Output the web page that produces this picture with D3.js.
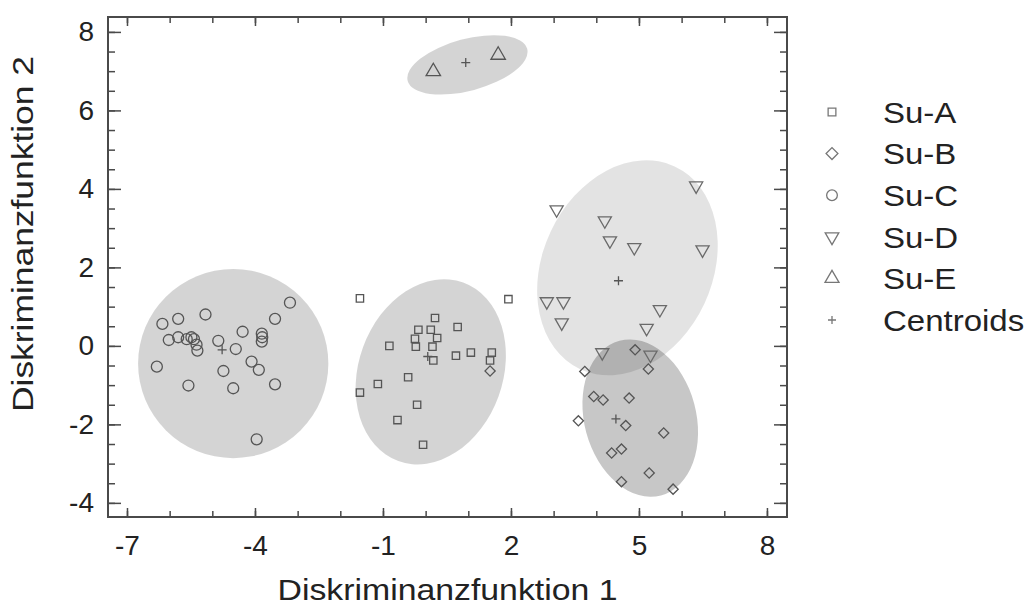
<!DOCTYPE html>
<html>
<head>
<meta charset="utf-8">
<script src="https://cdn.jsdelivr.net/npm/d3@7"></script>
<style>
  html, body { margin: 0; padding: 0; background: #fff; }
  svg { display: block; font-family: "Liberation Sans", Arial, Helvetica, sans-serif; }
</style>
</head>
<body>
<svg id="chart" width="1028" height="608"></svg>
<script>
// ---------------- DATA ----------------
const groups = ["Su-A", "Su-B", "Su-C", "Su-D", "Su-E"];
const legendLabels = ["Su-A", "Su-B", "Su-C", "Su-D", "Su-E", "Centroids"];

const suA = [[-1.54,1.21],[1.94,1.19],[0.22,0.71],[-0.17,0.41],[0.12,0.41],[0.27,0.20],[-0.25,0.18],
  [-0.23,-0.02],[0.16,-0.02],[0.75,0.48],[-0.85,0.00],[0.18,-0.37],[0.71,-0.25],[1.06,-0.17],
  [1.55,-0.17],[1.51,-0.37],[-0.41,-0.80],[-1.12,-0.97],[-1.54,-1.19],[-0.20,-1.50],[-0.66,-1.89],[-0.06,-2.52]];
const suB = [[1.51,-0.64],[4.91,-0.10],[3.73,-0.65],[5.22,-0.59],[3.94,-1.29],[4.16,-1.38],[4.77,-1.33],
  [3.58,-1.91],[4.69,-2.03],[5.58,-2.22],[4.36,-2.73],[4.59,-2.63],[5.24,-3.24],[4.59,-3.46],[5.80,-3.65]];
const suC = [[-3.18,1.10],[-3.53,0.69],[-5.16,0.80],[-5.80,0.69],[-6.17,0.56],[-6.02,0.15],[-5.80,0.22],
  [-5.60,0.17],[-5.49,0.22],[-5.43,0.17],[-5.37,0.03],[-5.35,-0.12],[-4.86,0.13],[-4.45,-0.08],
  [-4.29,0.36],[-3.84,0.31],[-3.83,0.22],[-3.84,0.11],[-4.08,-0.40],[-3.91,-0.61],[-4.74,-0.64],
  [-6.30,-0.53],[-5.56,-1.01],[-4.51,-1.08],[-3.53,-0.98],[-3.96,-2.38]];
const suD = [[6.34,4.08],[3.07,3.47],[4.20,3.19],[4.32,2.68],[4.89,2.51],[6.49,2.45],[2.84,1.13],
  [3.23,1.13],[3.19,0.59],[5.49,0.93],[5.18,0.45],[4.14,-0.17],[5.27,-0.23]];
const suE = [[0.18,6.99],[1.70,7.41]];
// centroids in order A, B, C, D, E
const centroids = [[0.05,-0.27],[4.46,-1.86],[-4.77,-0.10],[4.52,1.66],[0.94,7.22]];
// group ellipses: centre (data), semi-axes (x units, y units), rotation (deg)
const ellCx = [0.12, 5.03, -4.51, 4.73, 0.98];
const ellCy = [-0.66, -1.84, -0.45, 1.99, 7.16];
const ellRx = [1.69, 1.31, 2.23, 1.99, 1.45];
const ellRy = [2.42, 2.04, 2.41, 2.85, 0.66];
const ellAngle = [20, -15, 0, 25, -15];

const xTickValues = [-7, -4, -1, 2, 5, 8];
const yTickValues = [-4, -2, 0, 2, 4, 6, 8];
const xTitle = "Diskriminanzfunktion 1";
const yTitle = "Diskriminanzfunktion 2";

// ---------------- LAYOUT ----------------
const svg = d3.select("#chart");
const L = 108, R = 787, T = 17, B = 517;
const x = d3.scaleLinear().domain([-7.445, 8.47]).range([L, R]);
const y = d3.scaleLinear().domain([-4.36, 8.38]).range([B, T]);

const ellFill = ["rgba(0,0,0,0.17)", "rgba(0,0,0,0.22)", "rgba(0,0,0,0.17)", "rgba(0,0,0,0.11)", "rgba(0,0,0,0.17)"];
const ellOrder = [2, 0, 3, 1, 4];
svg.append("g").selectAll("ellipse").data(ellOrder).join("ellipse")
  .attr("cx", i => x(ellCx[i])).attr("cy", i => y(ellCy[i]))
  .attr("rx", i => x(ellCx[i] + ellRx[i]) - x(ellCx[i]))
  .attr("ry", i => y(ellCy[i]) - y(ellCy[i] + ellRy[i]))
  .attr("transform", i => `rotate(${ellAngle[i]},${x(ellCx[i])},${y(ellCy[i])})`)
  .attr("fill", i => ellFill[i]);

// symbols
const sym = {
  "Su-A": { path: d3.symbol(d3.symbolSquare, 54)(), rot: 0, color: "#555" },
  "Su-B": { path: d3.symbol(d3.symbolSquare, 52)(), rot: 45, color: "#555" },
  "Su-C": { path: d3.symbol(d3.symbolCircle, 95)(), rot: 0, color: "#555" },
  "Su-D": { path: d3.symbol(d3.symbolTriangle, 75)(), rot: 180, color: "#6a6a6a" },
  "Su-E": { path: d3.symbol(d3.symbolTriangle, 90)(), rot: 0, color: "#555" }
};
const series = [suA, suB, suC, suD, suE];
const ptLayer = svg.append("g");
series.forEach((pts, gi) => {
  const s = sym[groups[gi]];
  ptLayer.append("g").selectAll("path").data(pts).join("path")
    .attr("d", s.path)
    .attr("transform", d => `translate(${x(d[0])},${y(d[1])}) rotate(${s.rot})`)
    .attr("fill", "none").attr("stroke", s.color).attr("stroke-width", 1.3);
});
// centroids
const plus = "M-4.5,0H4.5M0,-4.5V4.5";
svg.append("g").selectAll("path").data(centroids).join("path")
  .attr("d", plus)
  .attr("transform", d => `translate(${x(d[0])},${y(d[1])})`)
  .attr("stroke", "#555").attr("stroke-width", 1.3).attr("fill", "none");

// ---------------- AXES ----------------
const axColor = "#4a4a4a";
const fmt = d => String(d);   // plain hyphen-minus like the original
function styleAxis(g) {
  g.select(".domain").remove();
  g.selectAll("line").attr("stroke", axColor).attr("stroke-width", 1.5);
  g.selectAll("text").attr("fill", "#222").attr("font-size", 28)
    .attr("font-family", "'Liberation Sans', Arial, sans-serif");
}
const xMinor = d3.range(-7, 8.01, 1);
const yMinor = d3.range(-4, 8.01, 0.5);
// bottom
svg.append("g").attr("transform", `translate(0,${B})`)
  .call(d3.axisBottom(x).tickValues(xMinor).tickSize(-6).tickFormat("")).call(styleAxis);
svg.append("g").attr("transform", `translate(0,${B})`)
  .call(d3.axisBottom(x).tickValues(xTickValues).tickSize(-9).tickPadding(18).tickFormat(fmt)).call(styleAxis)
  .selectAll("text").attr("dy", "0.71em");
// top
svg.append("g").attr("transform", `translate(0,${T})`)
  .call(d3.axisTop(x).tickValues(xMinor).tickSize(-6).tickFormat("")).call(styleAxis);
svg.append("g").attr("transform", `translate(0,${T})`)
  .call(d3.axisTop(x).tickValues(xTickValues).tickSize(-9).tickFormat("")).call(styleAxis);
// left
svg.append("g").attr("transform", `translate(${L},0)`)
  .call(d3.axisLeft(y).tickValues(yMinor).tickSize(-7).tickFormat("")).call(styleAxis);
svg.append("g").attr("transform", `translate(${L},0)`)
  .call(d3.axisLeft(y).tickValues(yTickValues).tickSize(-13).tickPadding(14).tickFormat(fmt)).call(styleAxis);
// right
svg.append("g").attr("transform", `translate(${R},0)`)
  .call(d3.axisRight(y).tickValues(yMinor).tickSize(-7).tickFormat("")).call(styleAxis);
svg.append("g").attr("transform", `translate(${R},0)`)
  .call(d3.axisRight(y).tickValues(yTickValues).tickSize(-13).tickFormat("")).call(styleAxis);

// frame
svg.append("rect").attr("x", L).attr("y", T).attr("width", R - L).attr("height", B - T)
  .attr("fill", "none").attr("stroke", axColor).attr("stroke-width", 2);

// titles
svg.append("text").attr("x", (L + R) / 2).attr("y", 600)
  .attr("text-anchor", "middle").attr("font-size", 29).attr("fill", "#222")
  .attr("textLength", 340).attr("lengthAdjust", "spacingAndGlyphs")
  .text(xTitle);
svg.append("text").attr("transform", `translate(33,234) rotate(-90)`)
  .attr("text-anchor", "middle").attr("font-size", 29).attr("fill", "#222")
  .attr("textLength", 356).attr("lengthAdjust", "spacingAndGlyphs")
  .text(yTitle);

// ---------------- LEGEND ----------------
const leg = svg.append("g");
legendLabels.forEach((lab, i) => {
  const gy = 112 + i * 41.6;
  const row = leg.append("g").attr("transform", `translate(832,${gy})`);
  if (sym[lab]) {
    const s = sym[lab];
    const sizes = { "Su-A": 60, "Su-B": 70, "Su-C": 90, "Su-D": 80, "Su-E": 85 };
    const t = lab === "Su-C" ? d3.symbolCircle : (lab === "Su-D" || lab === "Su-E") ? d3.symbolTriangle : d3.symbolSquare;
    row.append("path").attr("d", d3.symbol(t, sizes[lab])())
      .attr("transform", `rotate(${s.rot})`)
      .attr("fill", "none").attr("stroke", "#777").attr("stroke-width", 1.3);
  } else {
    row.append("path").attr("d", "M-4,0H4M0,-4V4").attr("stroke", "#777").attr("stroke-width", 1.3);
  }
  row.append("text").attr("transform", "translate(51,0) scale(1.1,1)")
    .attr("dy", "0.36em").attr("font-size", 30).attr("fill", "#222").text(lab);
});
</script>
</body>
</html>
